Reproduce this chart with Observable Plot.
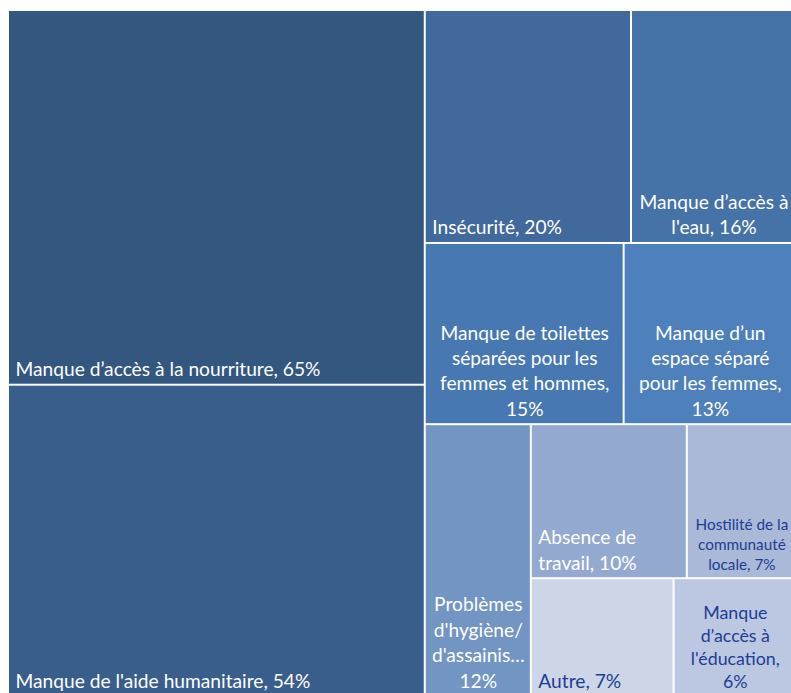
<!DOCTYPE html>
<html>
<head>
<meta charset="utf-8">
<script src="https://cdn.jsdelivr.net/npm/d3@7"></script>
<script src="https://cdn.jsdelivr.net/npm/@observablehq/plot@0.6"></script>
<style>
  html, body { margin: 0; padding: 0; background: #fff; overflow: hidden; }
</style>
</head>
<body>
<div id="chart"></div>
<script>
// ---- Data ----
const categories = [
  "Manque d’accès à la nourriture",
  "Manque de l'aide humanitaire",
  "Insécurité",
  "Manque d’accès à l'eau",
  "Manque de toilettes séparées pour les femmes et hommes",
  "Manque d’un espace séparé pour les femmes",
  "Problèmes d'hygiène/d'assainissement",
  "Absence de travail",
  "Hostilité de la communauté locale",
  "Autre",
  "Manque d’accès à l'éducation"
];
const values = [65, 54, 20, 16, 15, 13, 12, 10, 7, 7, 6];
const labels = [
  "Manque d’accès à la nourriture, 65%",
  "Manque de l'aide humanitaire, 54%",
  "Insécurité, 20%",
  "Manque d’accès à\nl'eau, 16%",
  "Manque de toilettes\nséparées pour les\nfemmes et hommes,\n15%",
  "Manque d’un\nespace séparé\npour les femmes,\n13%",
  "Problèmes\nd'hygiène/\nd'assainis…\n12%",
  "Absence de\ntravail, 10%",
  "Hostilité de la\ncommunauté\nlocale, 7%",
  "Autre, 7%",
  "Manque\nd’accès à\nl'éducation,\n6%"
];
const fills = ["#33577f", "#3a5e8b", "#41699c", "#4573a7", "#4878b1", "#4e80bb",
               "#7395c4", "#94a9d0", "#aab9d7", "#cdd6e7", "#bcc8e2"];
const textColors = ["#fff", "#fff", "#fff", "#fff", "#fff", "#fff",
                    "#fff", "#fff", "#1e3c94", "#1e3c94", "#1e3c94"];

// ---- Layout (Excel-style nested slice/dice tiling) ----
const W = 788, H = 686;
const leaf = i => ({i});
const tree = {children: [
  {children: [leaf(0), leaf(1)]},
  {children: [
    {children: [leaf(2), leaf(3)]},
    {children: [leaf(4), leaf(5)]},
    {children: [leaf(6), {children: [
      {children: [leaf(7), leaf(8)]},
      {children: [leaf(9), leaf(10)]}
    ]}]}
  ]}
]};
const root = d3.hierarchy(tree).sum(d => d.i !== undefined ? values[d.i] : 0);
d3.treemap().size([W, H]).tile(d3.treemapSliceDice).round(false)(root);

const cells = root.leaves().map(n => {
  const i = n.data.i;
  const left = [0, 1, 2, 7, 9].includes(i);
  const small = i === 8;
  return {
    name: categories[i], value: values[i], label: labels[i],
    fill: fills[i], color: textColors[i],
    x0: n.x0, x1: n.x1, y0: n.y0, y1: n.y1,
    tx: left ? n.x0 + 7 : (n.x0 + n.x1) / 2,
    ty: n.y1 - 9,
    anchor: left ? "start" : "middle",
    size: small ? 15.3 : (i === 10 ? 17.8 : 19.2),
    lh: small ? 1.3 : (i === 10 ? 1.28 : 1.32)
  };
});

const textMarks = cells.map(c => Plot.text([c], {
  x: "tx", y: "ty", text: "label",
  fill: c.color, textAnchor: c.anchor, lineAnchor: "bottom",
  fontSize: c.size, lineHeight: c.lh
}));

const chart = Plot.plot({
  width: 791, height: 693,
  margin: 0,
  x: {domain: [0, W], range: [8, 8 + W], axis: null},
  y: {domain: [0, H], range: [10, 10 + H], axis: null},
  style: {fontFamily: "Lato, 'Noto Sans', sans-serif", background: "#fff"},
  marks: [
    Plot.rect(cells, {x1: "x0", x2: "x1", y1: "y0", y2: "y1", fill: "fill", inset: 1}),
    ...textMarks
  ]
});
document.getElementById("chart").appendChild(chart);
</script>
</body>
</html>
